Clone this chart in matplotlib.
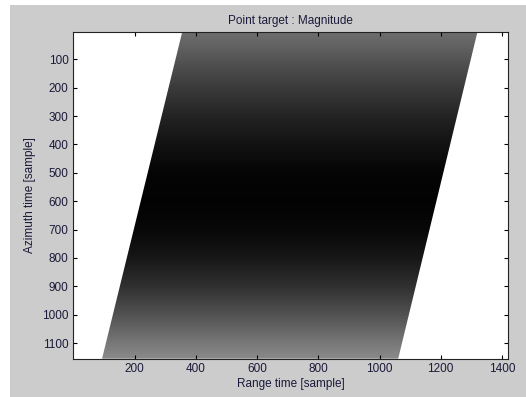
import numpy as np
import matplotlib
matplotlib.use("Agg")
from matplotlib import pyplot as plt
from matplotlib.patches import Polygon, Rectangle

plt.rcParams['font.family'] = ['Liberation Sans', 'DejaVu Sans']

# Magnitude profile along azimuth (gray level, 0 = black)
azimuth_rows = [0, 100, 200, 300, 400, 500, 600, 700, 800, 900, 1000, 1100, 1200]
gray_level = [0.44, 0.33, 0.23, 0.14, 0.07, 0.02, 0.01, 0.03, 0.09, 0.19, 0.32, 0.47, 0.60]

# Edges of the range-migrated band (range sample at first / last azimuth row)
band_rows = [4, 1155]
band_left = [355, 93]
band_right = [1320, 1061]

xlim = (-3, 1421)
ylim = (1155, 4)
xticks = [200, 400, 600, 800, 1000, 1200, 1400]
yticks = [100, 200, 300, 400, 500, 600, 700, 800, 900, 1000, 1100]

fig = plt.figure(figsize=(5.26, 3.97), dpi=100, facecolor='white')
fig.patches.append(Rectangle((10 / 526, 0), 1, 1 - 5 / 397, transform=fig.transFigure,
                             facecolor='#cccccc', edgecolor='none', zorder=-1))

ax = fig.add_axes([0.1382, 0.0965, 0.8282, 0.8229])
ax.set_facecolor('white')

# Image of the gradient, clipped to the band
step = azimuth_rows[1] - azimuth_rows[0]
img = np.array(gray_level).reshape(-1, 1)
im = ax.imshow(img, cmap='gray', vmin=0, vmax=1, aspect='auto', interpolation='bilinear',
               extent=(xlim[0], xlim[1], azimuth_rows[-1] + step / 2, azimuth_rows[0] - step / 2))
band = Polygon([(band_left[0], band_rows[0]), (band_right[0], band_rows[0]),
                (band_right[1], band_rows[1]), (band_left[1], band_rows[1])],
               closed=True, facecolor='none', edgecolor='none', transform=ax.transData)
ax.add_patch(band)
im.set_clip_path(band)

ax.set_xlim(xlim)
ax.set_ylim(ylim)
ax.set_xticks(xticks)
ax.set_yticks(yticks)
ax.tick_params(direction='in', length=3, width=0.8, top=True, right=True,
               labelsize=8.5, labelcolor='#1a1a3a', pad=3)
for s in ax.spines.values():
    s.set_linewidth(0.8)
    s.set_color('#222222')

ax.set_title('Point target : Magnitude', fontsize=8.5, color='#1a1a3a', pad=6)
ax.set_xlabel('Range time [sample]', fontsize=8.5, color='#1a1a3a', labelpad=2)
ax.set_ylabel('Azimuth time [sample]', fontsize=8.5, color='#1a1a3a', labelpad=4)

fig.savefig('out.png', dpi=100, facecolor=fig.get_facecolor())
